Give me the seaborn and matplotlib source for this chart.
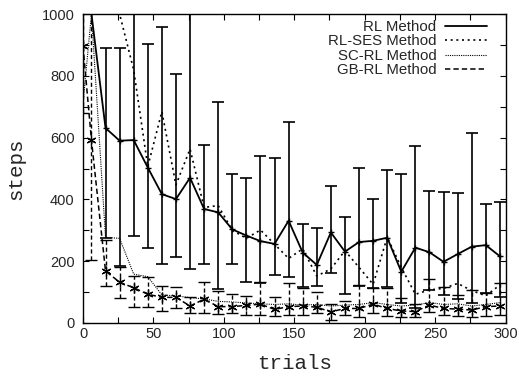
import numpy as np
import matplotlib
matplotlib.use('Agg')
import matplotlib.pyplot as plt
import seaborn as sns
from matplotlib.ticker import MultipleLocator

# values
trials = [0, 6, 16, 26, 36, 46, 56, 66, 76, 86, 96, 106, 116, 126, 136, 146,
          156, 166, 176, 186, 196, 206, 216, 226, 236, 246, 256, 266, 276, 286, 296]

rl = [1000, 1000, 631, 590, 592, 503, 417, 401, 470, 369, 358, 303, 283, 265, 256, 331,
      228, 188, 293, 231, 262, 266, 276, 166, 244, 229, 198, 223, 247, 252, 216]
rl_lo = [1000, 1000, 275, 185, 281, 242, 190, 213, 174, 191, 110, 190, 134, 130, 155, 148,
         115, 121, 161, 93, 120, 112, 115, 64, 50, 107, 91, 78, 64, 96, 85]
rl_hi = [1000, 1000, 891, 889, 1300, 902, 959, 805, 1300, 576, 716, 482, 469, 541, 535, 651,
         322, 308, 442, 342, 503, 402, 495, 482, 574, 428, 423, 420, 614, 385, 393]

ses = [1000, 1000, 1000, 1000, 819, 506, 684, 447, 563, 374, 380, 300, 274, 301, 255, 209,
       240, 152, 175, 234, 180, 125, 278, 180, 93, 107, 112, 128, 105, 88, 123]

sc = [710, 1000, 277, 274, 158, 150, 91, 88, 82, 78, 70, 68, 65, 62, 60, 62,
      58, 60, 55, 58, 60, 66, 60, 55, 58, 66, 60, 62, 55, 60, 66]

gb = [895, 592, 168, 132, 114, 93, 83, 83, 55, 77, 53, 53, 57, 61, 44, 53,
      55, 51, 36, 47, 47, 61, 47, 39, 37, 58, 47, 45, 42, 53, 55]
gb_lo = [680, 204, 120, 80, 51, 51, 40, 47, 31, 33, 30, 31, 26, 26, 23, 26,
         26, 31, 10, 26, 18, 31, 23, 20, 21, 37, 26, 23, 21, 23, 26]
gb_hi = [1300, 1300, 269, 182, 152, 150, 120, 118, 85, 134, 105, 94, 87, 134, 85, 128,
         112, 101, 62, 70, 123, 112, 112, 80, 60, 141, 118, 90, 107, 96, 128]

sns.set_style('ticks')
plt.rcParams['font.family'] = ['Liberation Sans', 'DejaVu Sans']

fig = plt.figure(figsize=(5.19, 3.76), dpi=100)
ax = fig.add_axes([83 / 519, 1 - 323 / 376, 422.5 / 519, 309 / 376])

x = np.array(trials)
rl_a, gb_a = np.array(rl), np.array(gb)

# error bars
ax.errorbar(x, rl_a, yerr=[rl_a - np.array(rl_lo), np.array(rl_hi) - rl_a], fmt='none',
            ecolor='black', elinewidth=1.2, capsize=4.5, capthick=1.2)
eb = ax.errorbar(x, gb_a, yerr=[gb_a - np.array(gb_lo), np.array(gb_hi) - gb_a], fmt='none',
                 ecolor='black', elinewidth=1.0, capsize=4, capthick=1.0)
for lc in eb.lines[2]:
    lc.set_linestyle((0, (3, 2)))

# lines
sns.lineplot(x=trials, y=rl, ax=ax, color='black', lw=1.3, label='RL Method')
sns.lineplot(x=trials, y=ses, ax=ax, color='black', lw=1.2, linestyle=(0, (1.2, 2.2)),
             label='RL-SES Method')
sns.lineplot(x=trials, y=sc, ax=ax, color='black', lw=0.8, linestyle=(0, (1, 1)),
             label='SC-RL Method')
sns.lineplot(x=trials, y=gb, ax=ax, color='black', lw=1.1, linestyle=(0, (3.5, 2)),
             label='GB-RL Method')

# point markers
ax.plot(x[2:], rl_a[2:], ls='none', marker='+', ms=4, mew=1, color='black')
ax.plot(x, gb_a, ls='none', marker=(6, 2, 0), ms=7, mew=0.9, color='black')

ax.set_xlim(0, 300)
ax.set_ylim(0, 1000)
ax.xaxis.set_major_locator(MultipleLocator(50))
ax.xaxis.set_minor_locator(MultipleLocator(25))
ax.yaxis.set_major_locator(MultipleLocator(200))
ax.yaxis.set_minor_locator(MultipleLocator(100))
ax.tick_params(which='both', direction='in', top=True, right=True, length=4, width=0.8,
               color='black')
ax.tick_params(axis='x', which='major', labelsize=10.5, pad=3)
ax.tick_params(axis='y', which='major', labelsize=10.5, pad=6)
for s in ax.spines.values():
    s.set_linewidth(1.0)
    s.set_color('black')

ax.set_xlabel('trials', family='Liberation Mono', fontsize=15, labelpad=9)
ax.set_ylabel('steps', family='Liberation Mono', fontsize=15, labelpad=12)

ax.legend(loc='upper right', bbox_to_anchor=(0.957, 0.98), frameon=False, markerfirst=False,
          handlelength=2.8, handletextpad=0.6, labelspacing=0.02, borderpad=0,
          borderaxespad=0, fontsize=10.8)

fig.savefig('out.png', dpi=100)
